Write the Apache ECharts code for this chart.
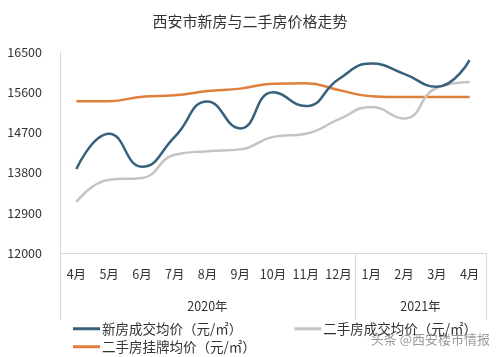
<!DOCTYPE html>
<html>
<head>
<meta charset="utf-8">
<script src="https://cdn.jsdelivr.net/npm/echarts@6/dist/echarts.min.js"></script>
<style>html,body{margin:0;padding:0;background:#fff}#c{width:500px;height:357px}</style>
</head>
<body>
<div id="c"></div>
<script>
const months = ['4月','5月','6月','7月','8月','9月','10月','11月','12月','1月','2月','3月','4月'];
const years = ['2020年','2021年'];
const yTicks = [12000, 12900, 13800, 14700, 15600, 16500];
const newHouse = [13880, 14670, 13930, 14600, 15390, 14790, 15600, 15290, 15890, 16240, 16010, 15720, 16320];
const secondHand = [13140, 13640, 13680, 14200, 14280, 14320, 14600, 14670, 14990, 15270, 15010, 15700, 15830];
const listing = [15400, 15400, 15500, 15530, 15625, 15680, 15790, 15800, 15650, 15510, 15490, 15490, 15490];
const seriesNames = ['新房成交均价（元/㎡）', '二手房成交均价（元/㎡）', '二手房挂牌均价（元/㎡）'];
const colors = ['#37607a', '#c4c4c4', '#e07f3c'];

const font = '"Noto Sans CJK SC", "Microsoft YaHei", sans-serif';
const legendBase = {
  itemWidth: 27, itemHeight: 3, itemGap: 52,
  icon: 'rect', padding: 0,
  textStyle: { fontSize: 13.5, color: '#333', fontFamily: font, padding: [0, 0, 0, -3] }
};
const chart = echarts.init(document.getElementById('c'));
chart.setOption({
  animation: false,
  textStyle: { fontFamily: font },
  title: {
    text: '西安市新房与二手房价格走势',
    left: 'center', top: 9,
    textStyle: { fontSize: 15, fontWeight: 'normal', color: '#333', fontFamily: font }
  },
  grid: { left: 60, right: 14, top: 52, bottom: 104 },
  legend: [
    Object.assign({}, legendBase, { left: 73, top: 322, data: seriesNames.slice(0, 2) }),
    Object.assign({}, legendBase, { left: 73, top: 340, data: seriesNames.slice(2) })
  ],
  xAxis: [{
    type: 'category',
    data: months,
    boundaryGap: true,
    axisLine: { lineStyle: { color: '#d9d9d9' } },
    axisTick: { show: false },
    axisLabel: { color: '#333', fontSize: 12.5, margin: 15, interval: 0, fontFamily: font }
  }, {
    type: 'value',
    min: 0, max: 13,
    position: 'bottom',
    axisLine: { show: false },
    splitLine: { show: false },
    axisTick: { show: true, customValues: [0, 9, 13], length: 67, lineStyle: { color: '#d9d9d9' } },
    axisLabel: {
      customValues: [4.5, 11],
      formatter: v => (v < 9 ? years[0] : years[1]),
      color: '#333', fontSize: 12.5, margin: 47, fontFamily: font
    }
  }],
  yAxis: {
    type: 'value',
    min: yTicks[0], max: yTicks[yTicks.length - 1], interval: 900,
    axisLine: { show: true, lineStyle: { color: '#d9d9d9' } },
    axisTick: { show: false },
    splitLine: { show: false },
    axisLabel: { color: '#333', fontSize: 12.5, margin: 18, fontFamily: font, formatter: v => String(v) }
  },
  series: [
    { name: seriesNames[0], type: 'line', data: newHouse, smooth: 0.5, symbol: 'none', xAxisIndex: 0,
      lineStyle: { width: 2.5, color: colors[0] }, itemStyle: { color: colors[0] }, z: 3 },
    { name: seriesNames[1], type: 'line', data: secondHand, smooth: 0.5, symbol: 'none', xAxisIndex: 0,
      lineStyle: { width: 2.5, color: colors[1] }, itemStyle: { color: colors[1] }, z: 2 },
    { name: seriesNames[2], type: 'line', data: listing, smooth: 0.5, symbol: 'none', xAxisIndex: 0,
      lineStyle: { width: 2.5, color: colors[2] }, itemStyle: { color: colors[2] }, z: 1 }
  ],
  graphic: [{
    type: 'text', right: 10, top: 333,
    style: { text: '头条 @西安楼市情报', fill: 'rgba(120,120,120,0.75)', font: '13px ' + font }
  }]
});
</script>
</body>
</html>
